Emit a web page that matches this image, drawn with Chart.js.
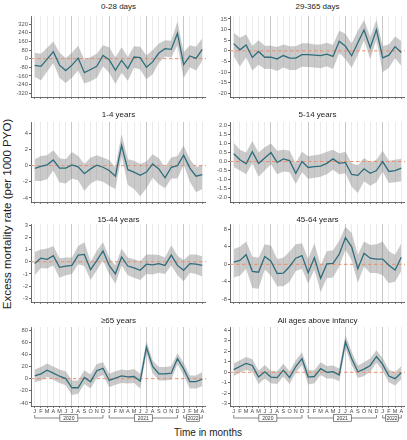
<!DOCTYPE html>
<html>
<head>
<meta charset="utf-8">
<script src="https://cdn.jsdelivr.net/npm/chart.js@4.4.1/dist/chart.umd.min.js"></script>
<style>
  body { margin: 0; background: #fff; width: 407px; height: 440px; position: relative; overflow: hidden;
         font-family: "Liberation Sans", Arial, sans-serif; }
  canvas { position: absolute; }
  .ttl { position: absolute; font-size: 8px; line-height: 8px; color: #222; text-align: center; white-space: nowrap; z-index: 2; }
  #ylab { position: absolute; left: 7px; top: 214px; transform: translate(-50%, -50%) rotate(-90deg);
          font-size: 11.5px; color: #222; white-space: nowrap; }
  #xlab { position: absolute; left: 208px; top: 432px; transform: translate(-50%, -50%);
          font-size: 10px; color: #222; white-space: nowrap; }
</style>
</head>
<body>
<div id="ylab">Excess mortality rate (per 1000 PYO)</div>
<div id="xlab">Time in months</div>
<script>
// Jan 2020 .. Apr 2022
const months = ["J","F","M","A","M","J","J","A","S","O","N","D",
                "J","F","M","A","M","J","J","A","S","O","N","D",
                "J","F","M","A"];
const years = ["2020", "2021", "2022"];
const yearFrom = [0, 12, 24];
const yearTo = [11, 23, 27];

const titles = ["0-28 days", "29-365 days", "1-4 years", "5-14 years",
                "15-44 years", "45-64 years", "\u226565 years", "All ages above infancy"];

// 0-28 days
const mean1 = [-62,-71,-5,65,-60,-110,-60,5,-130,-100,-70,30,-10,-108,-15,-92,15,10,-80,-30,52,92,86,234,-55,25,3,86];
const hi1 = [55,45,100,160,55,5,55,120,-10,15,45,125,105,10,105,15,115,110,30,80,140,170,165,345,60,125,110,190];
const lo1 = [-170,-200,-120,-40,-180,-225,-175,-110,-230,-210,-180,-70,-130,-235,-130,-205,-85,-100,-190,-145,-40,20,10,125,-180,-80,-110,-20];
const ticks1 = [-320,-240,-160,-80,0,80,160,240,320];

// 29-365 days
const mean2 = [3.4,0.5,2.8,-3.1,-0.3,-3.0,-2.9,-3.8,-2.2,-3.4,-3.4,-1.8,-1.8,-2.0,-2.2,-1.5,-2.6,4.5,2.2,-2.3,3.8,9.8,1.5,10.0,-3.3,-2.0,2.0,-0.8];
const hi2 = [8.5,6.2,7.7,2.3,5.0,2.4,2.4,1.8,3.0,2.2,2.2,3.6,3.6,3.0,3.0,3.8,2.8,9.5,8.0,3.5,9.5,14.5,6.5,14.6,2.3,3.0,6.8,4.6];
const lo2 = [-2.5,-7.4,-3.0,-9.2,-6.5,-8.5,-8.4,-9.5,-7.8,-9.0,-9.0,-7.5,-7.6,-7.8,-8.2,-7.2,-8.5,-1.0,-3.8,-8.0,-2.0,5.0,-4.0,5.4,-10.0,-8.0,-3.5,-7.0];
const ticks2 = [-20,-15,-10,-5,0,5,10,15];

// 1-4 years
const mean3 = [-0.33,-0.1,0.1,0.7,-0.3,-0.3,0.1,-0.15,-1.0,-0.4,0.05,-0.2,-0.6,-1.3,2.5,-0.5,-0.8,-1.2,-0.8,0.2,-0.4,-1.5,-0.2,0.0,1.3,-0.3,-1.3,-1.1];
const hi3 = [0.8,1.2,1.3,1.9,0.9,0.8,1.7,1.2,0.2,1.0,1.3,1.0,0.7,-0.2,3.9,0.8,0.6,0.2,0.5,1.4,0.9,-0.2,1.0,1.2,2.5,0.8,-0.2,0.1];
const lo3 = [-1.9,-1.9,-1.7,-0.6,-2.1,-2.2,-1.6,-1.8,-3.1,-2.2,-1.8,-2.0,-2.5,-2.9,1.2,-2.4,-2.9,-3.8,-2.8,-1.5,-2.3,-2.8,-1.6,-1.6,0.1,-2.0,-3.3,-2.9];
const ticks3 = [-4,-3,-2,-1,0,1,2,3,4,5];

// 5-14 years
const mean4 = [0.43,0.1,-0.13,0.55,-0.1,0.2,0.5,-0.05,0.15,0.05,-0.65,0.0,-0.33,-0.28,-0.25,-0.1,0.15,-0.1,-0.05,-0.72,-0.77,-0.4,-0.65,-0.5,0.0,-0.55,-0.5,-0.37];
const hi4 = [1.05,0.65,0.5,1.15,0.5,0.8,1.0,0.6,0.65,0.6,-0.1,0.55,0.3,0.35,0.4,0.55,0.65,0.45,0.55,-0.1,-0.2,0.2,-0.05,0.1,0.6,0.05,0.1,0.15];
const lo4 = [-0.3,-0.5,-0.7,-0.1,-0.85,-0.5,-0.15,-0.7,-0.55,-0.6,-1.25,-0.6,-0.95,-0.9,-0.85,-0.7,-0.45,-0.7,-0.65,-1.4,-1.75,-1.1,-1.35,-1.15,-0.55,-1.2,-1.15,-1.1];
const ticks4 = [-2.0,-1.5,-1.0,-0.5,0.0,0.5,1.0,1.5,2.0];

// 15-44 years
const mean5 = [-0.15,0.3,0.2,0.5,-0.45,-0.35,-0.3,0.55,0.6,-0.65,0.1,0.9,-0.3,-1.0,0.4,-0.35,-0.5,-0.7,-0.2,-0.25,-0.15,-0.3,0.55,-0.3,-0.7,-0.15,-0.2,-0.3];
const hi5 = [0.8,1.0,1.1,1.3,0.3,0.35,0.35,1.3,1.6,0.0,0.9,1.6,0.35,-0.3,1.1,0.35,0.2,0.05,0.6,0.6,0.55,0.35,1.35,0.5,0.15,0.6,0.6,0.45];
const lo5 = [-1.1,-0.5,-0.55,-0.3,-1.3,-1.1,-1.0,-0.2,-0.35,-1.5,-0.7,0.1,-1.0,-1.8,-0.3,-1.1,-1.3,-1.5,-1.0,-1.05,-0.9,-1.0,-0.3,-1.1,-1.6,-0.9,-1.0,-1.2];
const ticks5 = [-3,-2,-1,0,1,2,3];

// 45-64 years
const mean6 = [0.5,0.9,2.2,-1.6,-1.8,1.8,0.7,-2.1,-2.0,-0.5,1.4,2.0,-1.9,1.5,-3.2,0.1,0.2,2.3,6.1,4.0,-1.0,2.5,1.4,1.2,1.2,-0.2,-1.3,1.6];
const hi6 = [3.5,4.0,5.2,1.8,1.5,4.6,4.3,1.2,1.5,2.9,4.6,4.8,1.2,4.8,-0.2,3.0,3.2,5.4,8.6,7.2,2.2,5.2,4.4,4.6,5.2,3.0,2.2,4.8];
const lo6 = [-3.0,-2.6,-1.0,-5.4,-5.6,-1.2,-2.6,-5.0,-5.0,-4.0,-1.5,-1.0,-4.4,-1.2,-6.3,-3.2,-3.0,-0.5,3.3,1.0,-4.2,-0.5,-2.0,-2.0,-2.5,-4.3,-3.9,-1.5];
const ticks6 = [-8,-6,-4,-2,0,2,4,6,8];

// >=65 years
const mean7 = [4.5,8,14,9,4,0,-15,-15,2,-5,13,17,-3,1,4.5,3,3.5,-4,52,20,8,8,9,33,16,-5,-5,-1];
const hi7 = [15,19,25,20,15,12,-3,-3,14,7,24,27,8,12,15,14,16,8,62,30,19,19,21,42,26,5,5,11];
const lo7 = [-6,-3,3,-2,-7,-11,-27,-25,-9,-16,1,6,-14,-10,-7,-8,-7,-16,42,9,-3,-3,-2,24,5,-16,-16,-12];
const ticks7 = [-40,-20,0,20,40,60,80];

// All ages above infancy
const mean8 = [0.25,0.55,0.85,0.65,-0.45,0.05,-0.45,-0.5,0.2,-0.5,0.55,1.3,-0.45,-0.4,0.35,0.0,0.05,-0.25,2.9,1.3,0.05,0.3,0.65,1.5,0.75,-0.35,-0.6,-0.05];
const hi8 = [0.85,1.15,1.45,1.25,0.15,0.7,0.15,0.1,0.8,0.1,1.15,1.9,0.2,0.2,0.95,0.6,0.65,0.35,3.55,1.95,0.65,0.95,1.3,2.1,1.35,0.25,0.0,0.6];
const lo8 = [-0.35,-0.05,0.25,0.05,-1.1,-0.6,-1.05,-1.1,-0.4,-1.1,-0.05,0.7,-1.15,-1.05,-0.25,-0.6,-0.6,-0.85,2.3,0.7,-0.55,-0.35,0.05,0.9,0.15,-0.95,-1.25,-0.65];
const ticks8 = [-3,-2,-1,0,1,2,3,4];

const panels = [
  { mean: mean1, hi: hi1, lo: lo1, ticks: ticks1, min: -355, max: 395, dp: 0 },
  { mean: mean2, hi: hi2, lo: lo2, ticks: ticks2, min: -21.7, max: 16.4, dp: 0 },
  { mean: mean3, hi: hi3, lo: lo3, ticks: ticks3, min: -4.5, max: 5.4, dp: 0 },
  { mean: mean4, hi: hi4, lo: lo4, ticks: ticks4, min: -2.25, max: 2.2, dp: 1 },
  { mean: mean5, hi: hi5, lo: lo5, ticks: ticks5, min: -3.3, max: 3.1, dp: 0 },
  { mean: mean6, hi: hi6, lo: lo6, ticks: ticks6, min: -8.6, max: 9.2, dp: 0 },
  { mean: mean7, hi: hi7, lo: lo7, ticks: ticks7, min: -45, max: 85, dp: 0 },
  { mean: mean8, hi: hi8, lo: lo8, ticks: ticks8, min: -3.2, max: 4.3, dp: 0 }
];

// layout of the 4x2 grid
const colLeft = [0, 206], colW = [206, 199], yAxisW = [31, 24];
const rowTop = [11, 117, 219, 322], rowH = [91, 90, 88, 104];
const titleMid = [7, 115, 219.5, 321];
const FONT = "'Liberation Sans', Arial, sans-serif";

const zeroLine = {
  id: "zeroLine",
  afterDatasetDraw(chart, args) {
    if (args.index !== 1) return;
    const { ctx, chartArea } = chart;
    const y = chart.scales.y.getPixelForValue(0);
    ctx.save();
    ctx.strokeStyle = "#e8906f";
    ctx.lineWidth = 1;
    ctx.setLineDash([3.5, 2.5]);
    ctx.beginPath();
    ctx.moveTo(chartArea.left, y);
    ctx.lineTo(chartArea.right, y);
    ctx.stroke();
    ctx.restore();
  }
};

const yearBrackets = {
  id: "yearBrackets",
  afterDraw(chart) {
    if (!chart.options.plugins.yearBrackets.show) return;
    const { ctx } = chart;
    const xs = chart.scales.x;
    const y = chart.chartArea.bottom + 12;
    ctx.save();
    ctx.strokeStyle = "#555";
    ctx.lineWidth = 0.7;
    ctx.font = "5px " + FONT;
    ctx.textAlign = "center";
    ctx.textBaseline = "middle";
    years.forEach((yr, k) => {
      const x1 = xs.getPixelForValue(yearFrom[k]);
      const x2 = xs.getPixelForValue(yearTo[k]);
      ctx.beginPath();
      ctx.moveTo(x1, y - 3); ctx.lineTo(x1, y); ctx.lineTo(x2, y); ctx.lineTo(x2, y - 3);
      ctx.stroke();
      const mid = (x1 + x2) / 2;
      const bw = Math.min(18, x2 - x1 - 6);
      ctx.fillStyle = "#fff";
      ctx.fillRect(mid - bw / 2, y - 3.3, bw, 6.6);
      ctx.strokeRect(mid - bw / 2, y - 3.3, bw, 6.6);
      ctx.fillStyle = "#333";
      ctx.fillText(yr, mid, y + 0.2);
    });
    ctx.restore();
  }
};

panels.forEach((p, i) => {
  const col = i % 2, row = Math.floor(i / 2);
  const bottomRow = row === 3;
  const cv = document.createElement("canvas");
  cv.width = colW[col]; cv.height = rowH[row];
  cv.style.left = colLeft[col] + "px"; cv.style.top = rowTop[row] + "px";
  document.body.appendChild(cv);

  const t = document.createElement("div");
  t.className = "ttl";
  t.textContent = titles[i];
  t.style.left = (colLeft[col] + yAxisW[col]) + "px";
  t.style.width = (colW[col] - yAxisW[col]) + "px";
  t.style.top = (titleMid[row] - 4) + "px";
  document.body.appendChild(t);

  const pts = arr => arr.map((v, k) => ({ x: k, y: v }));

  new Chart(cv, {
    type: "line",
    data: {
      datasets: [
        { data: pts(p.mean), borderColor: "#2f6d7c", borderWidth: 1.3, pointRadius: 0, fill: false, tension: 0 },
        { data: pts(p.hi), borderWidth: 0, borderColor: "rgba(0,0,0,0)", pointRadius: 0,
          backgroundColor: "rgba(128,128,128,0.42)", fill: "+1", tension: 0 },
        { data: pts(p.lo), borderWidth: 0, borderColor: "rgba(0,0,0,0)", pointRadius: 0, fill: false, tension: 0 }
      ]
    },
    options: {
      responsive: false,
      animation: false,
      devicePixelRatio: 1,
      events: [],
      layout: { padding: { top: 5, left: 0, right: 0, bottom: 0 } },
      plugins: {
        legend: { display: false },
        tooltip: { enabled: false },
        title: { display: false },
        yearBrackets: { show: bottomRow }
      },
      scales: {
        x: {
          type: "linear",
          min: -0.6,
          max: 27.6,
          afterBuildTicks: s => { s.ticks = months.map((m, k) => ({ value: k })); },
          afterFit: s => { s.height = bottomRow ? 20 : 5; },
          grid: {
            drawOnChartArea: true,
            drawTicks: true,
            tickLength: 2,
            lineWidth: 0.8,
            tickColor: "#666",
            color: c => (c.tick && c.tick.value > 0 && c.tick.value % 6 === 0) ? "#b9b9b9" : "#e6e6e6"
          },
          border: { display: true, color: "#444", width: 0.8 },
          ticks: {
            display: bottomRow,
            autoSkip: false,
            maxRotation: 0,
            minRotation: 0,
            padding: 0,
            color: "#444",
            font: { size: 5.5, family: FONT },
            callback: v => months[v]
          }
        },
        y: {
          type: "linear",
          min: p.min,
          max: p.max,
          afterBuildTicks: s => { s.ticks = p.ticks.map(v => ({ value: v })); },
          afterFit: s => { s.width = yAxisW[col]; },
          grid: { drawOnChartArea: false, drawTicks: true, tickLength: 2, tickColor: "#666" },
          border: { display: true, color: "#444", width: 0.8 },
          ticks: {
            padding: 1,
            color: "#555",
            font: { size: 5.8, family: FONT },
            callback: v => v.toFixed(p.dp)
          }
        }
      }
    },
    plugins: [zeroLine, yearBrackets]
  });
});
</script>
</body>
</html>
